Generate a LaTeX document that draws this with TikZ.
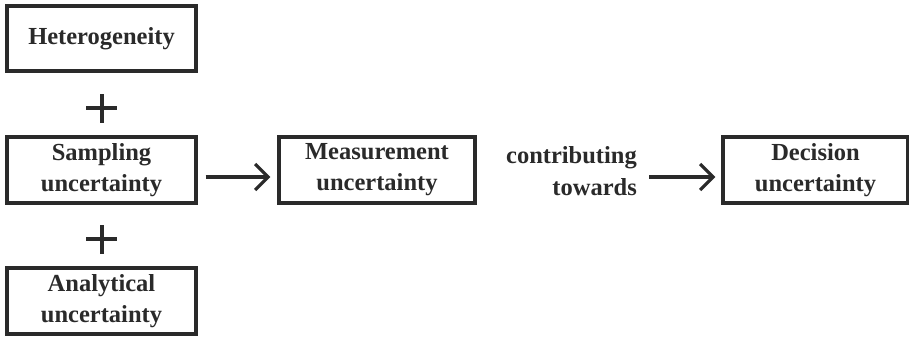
\documentclass[tikz,border=0pt]{standalone}
\usepackage{fontspec}
\setmainfont{Liberation Serif}
\usetikzlibrary{arrows.meta}
\definecolor{ink}{HTML}{2A2A2A}
\begin{document}
\begin{tikzpicture}[x=1pt,y=-1pt,
  box/.style={draw=ink,line width=3.2pt,minimum height=66pt,inner sep=0pt,
    align=center,text=ink,font=\fontsize{24.5}{31}\selectfont\bfseries},
  lbl/.style={text=ink,font=\fontsize{24.5}{32}\selectfont\bfseries,inner sep=0pt},
  conn/.style={draw=ink,line width=3.2pt,-{Straight Barb[length=13pt,width=26pt,line width=3.2pt]}},
  plusline/.style={draw=ink,line width=3.2pt}]
\useasboundingbox[fill=white] (0,0) rectangle (909,337);
\node[box,minimum width=189pt,minimum height=65pt] (het) at (101.5,38.5) {Heterogeneity};
\node[box,minimum width=189pt] (samp) at (101.5,170) {Sampling\\uncertainty};
\node[box,minimum width=189pt] (anal) at (101.5,301) {Analytical\\uncertainty};
\node[box,minimum width=196pt] (meas) at (377,170) {Measurement\\uncertainty};
\node[box,minimum width=185pt] (dec) at (815.5,170) {Decision\\uncertainty};
\node[lbl,align=right,anchor=east] (contr) at (637,171) {contributing\\towards};
% plus signs
\coordinate (p1) at (102,108);
\coordinate (p2) at (102,239);
\draw[plusline] ([xshift=-16pt]p1) -- ([xshift=15pt]p1);
\draw[plusline] ([yshift=14pt]p1) -- ([yshift=-15pt]p1);
\draw[plusline] ([xshift=-16pt]p2) -- ([xshift=15pt]p2);
\draw[plusline] ([yshift=14pt]p2) -- ([yshift=-15pt]p2);
% arrows
\draw[conn,shorten <=8pt,shorten >=7pt] ([yshift=-7pt]samp.east) -- ([yshift=-7pt]meas.west);
\draw[conn,shorten <=12pt,shorten >=6pt] ([yshift=-6pt]contr.east) -- ([yshift=-7pt]dec.west);
\end{tikzpicture}
\end{document}
